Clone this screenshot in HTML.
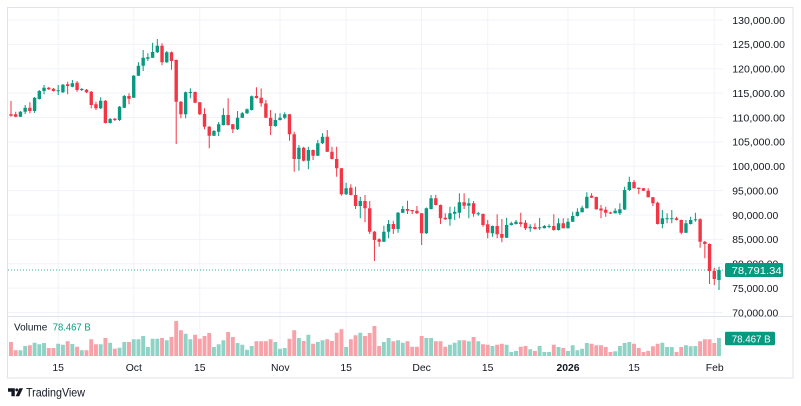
<!DOCTYPE html>
<html>
<head>
<meta charset="utf-8">
<style>
html,body{margin:0;padding:0;background:#fff;}
svg{display:block;}
text{font-family:"Liberation Sans",Arial,sans-serif;}
</style>
</head>
<body>
<svg width="801" height="406" viewBox="0 0 801 406" xmlns="http://www.w3.org/2000/svg">
<rect x="0" y="0" width="801" height="406" fill="#fff"/>
<!-- grid -->
<g stroke="#f0f3fa" stroke-width="1">
<path d="M8 20H723M8 44.38H723M8 68.76H723M8 93.14H723M8 117.52H723M8 141.9H723M8 166.28H723M8 190.66H723M8 215.04H723M8 239.42H723M8 263.8H723M8 288.18H723M8 312.56H723"/>
<path d="M58.2 8V356M133.72 8V356M199.8 8V356M280.04 8V356M346.12 8V356M421.64 8V356M487.72 8V356M567.96 8V356M634.04 8V356M714.28 8V356"/>
</g>
<!-- border & separators -->
<rect x="7.5" y="7.5" width="785.5" height="370.5" fill="none" stroke="#e0e3eb" stroke-width="1"/>
<path d="M8 316.5H793" stroke="#e0e3eb" stroke-width="1"/>

<!-- volume bars -->
<path fill="#f7a1a8" d="M9.05 342h3.9V356h-3.9zM13.77 350.3h3.9V356h-3.9zM27.93 345.3h3.9V356h-3.9zM46.81 348h3.9V356h-3.9zM51.53 348h3.9V356h-3.9zM65.69 341.3h3.9V356h-3.9zM75.13 346.7h3.9V356h-3.9zM84.57 350.3h3.9V356h-3.9zM89.29 339.3h3.9V356h-3.9zM94.01 344.3h3.9V356h-3.9zM103.45 338h3.9V356h-3.9zM112.89 348.7h3.9V356h-3.9zM127.05 342h3.9V356h-3.9zM160.09 338h3.9V356h-3.9zM169.53 337h3.9V356h-3.9zM174.25 321h3.9V356h-3.9zM178.97 330.3h3.9V356h-3.9zM193.13 334.7h3.9V356h-3.9zM197.85 338.7h3.9V356h-3.9zM202.57 336h3.9V356h-3.9zM207.29 333h3.9V356h-3.9zM226.17 332h3.9V356h-3.9zM230.89 337h3.9V356h-3.9zM254.49 341.3h3.9V356h-3.9zM259.21 341.3h3.9V356h-3.9zM263.93 341.3h3.9V356h-3.9zM268.65 339.3h3.9V356h-3.9zM287.53 338.7h3.9V356h-3.9zM292.25 330.3h3.9V356h-3.9zM301.69 341h3.9V356h-3.9zM311.13 343.7h3.9V356h-3.9zM325.29 339.3h3.9V356h-3.9zM330.01 341h3.9V356h-3.9zM334.73 332.7h3.9V356h-3.9zM339.45 329.3h3.9V356h-3.9zM348.89 339.3h3.9V356h-3.9zM353.61 335.3h3.9V356h-3.9zM363.05 336h3.9V356h-3.9zM367.77 333h3.9V356h-3.9zM372.49 326h3.9V356h-3.9zM377.21 346h3.9V356h-3.9zM391.37 341.3h3.9V356h-3.9zM405.53 341.3h3.9V356h-3.9zM410.25 346.7h3.9V356h-3.9zM414.97 346.7h3.9V356h-3.9zM419.69 336h3.9V356h-3.9zM433.85 341.3h3.9V356h-3.9zM438.57 341.3h3.9V356h-3.9zM443.29 346.7h3.9V356h-3.9zM462.17 340.3h3.9V356h-3.9zM471.61 337h3.9V356h-3.9zM481.05 344.3h3.9V356h-3.9zM485.77 344.7h3.9V356h-3.9zM495.21 344.7h3.9V356h-3.9zM499.93 343.7h3.9V356h-3.9zM518.81 346.7h3.9V356h-3.9zM523.53 346h3.9V356h-3.9zM532.97 351h3.9V356h-3.9zM551.85 344.7h3.9V356h-3.9zM561.29 348h3.9V356h-3.9zM589.61 343.7h3.9V356h-3.9zM594.33 345.3h3.9V356h-3.9zM599.05 345.3h3.9V356h-3.9zM603.77 347h3.9V356h-3.9zM608.49 352h3.9V356h-3.9zM632.09 343.7h3.9V356h-3.9zM636.81 348h3.9V356h-3.9zM641.53 352h3.9V356h-3.9zM646.25 351h3.9V356h-3.9zM650.97 346.3h3.9V356h-3.9zM655.69 343.7h3.9V356h-3.9zM674.57 352h3.9V356h-3.9zM679.29 347h3.9V356h-3.9zM698.17 341.3h3.9V356h-3.9zM702.89 339.3h3.9V356h-3.9zM707.61 339.3h3.9V356h-3.9zM712.33 343h3.9V356h-3.9z"/>
<path fill="#8fd3c6" d="M18.49 350.3h3.9V356h-3.9zM23.21 346h3.9V356h-3.9zM32.65 342.7h3.9V356h-3.9zM37.37 344.3h3.9V356h-3.9zM42.09 343h3.9V356h-3.9zM56.25 343.7h3.9V356h-3.9zM60.97 344.7h3.9V356h-3.9zM70.41 344h3.9V356h-3.9zM79.85 350.3h3.9V356h-3.9zM98.73 344.3h3.9V356h-3.9zM108.17 342.7h3.9V356h-3.9zM117.61 347.7h3.9V356h-3.9zM122.33 342h3.9V356h-3.9zM131.77 339.3h3.9V356h-3.9zM136.49 339.3h3.9V356h-3.9zM141.21 336h3.9V356h-3.9zM145.93 347h3.9V356h-3.9zM150.65 338.7h3.9V356h-3.9zM155.37 338.7h3.9V356h-3.9zM164.81 340.3h3.9V356h-3.9zM183.69 333.7h3.9V356h-3.9zM188.41 339.3h3.9V356h-3.9zM212.01 347h3.9V356h-3.9zM216.73 344.3h3.9V356h-3.9zM221.45 340.3h3.9V356h-3.9zM235.61 343h3.9V356h-3.9zM240.33 344.7h3.9V356h-3.9zM245.05 349.7h3.9V356h-3.9zM249.77 346h3.9V356h-3.9zM273.37 342h3.9V356h-3.9zM278.09 348.7h3.9V356h-3.9zM282.81 348h3.9V356h-3.9zM296.97 338h3.9V356h-3.9zM306.41 334.7h3.9V356h-3.9zM315.85 342h3.9V356h-3.9zM320.57 340.3h3.9V356h-3.9zM344.17 347h3.9V356h-3.9zM358.33 332.7h3.9V356h-3.9zM381.93 342h3.9V356h-3.9zM386.65 338h3.9V356h-3.9zM396.09 340.3h3.9V356h-3.9zM400.81 342.7h3.9V356h-3.9zM424.41 338h3.9V356h-3.9zM429.13 338h3.9V356h-3.9zM448.01 344.7h3.9V356h-3.9zM452.73 342.7h3.9V356h-3.9zM457.45 340.3h3.9V356h-3.9zM466.89 341.3h3.9V356h-3.9zM476.33 341.3h3.9V356h-3.9zM490.49 346h3.9V356h-3.9zM504.65 344.7h3.9V356h-3.9zM509.37 352h3.9V356h-3.9zM514.09 351h3.9V356h-3.9zM528.25 349.3h3.9V356h-3.9zM537.69 346h3.9V356h-3.9zM542.41 352h3.9V356h-3.9zM547.13 352h3.9V356h-3.9zM556.57 347h3.9V356h-3.9zM566.01 351h3.9V356h-3.9zM570.73 345.3h3.9V356h-3.9zM575.45 350.3h3.9V356h-3.9zM580.17 348.7h3.9V356h-3.9zM584.89 343h3.9V356h-3.9zM613.21 351.3h3.9V356h-3.9zM617.93 346h3.9V356h-3.9zM622.65 343h3.9V356h-3.9zM627.37 342h3.9V356h-3.9zM660.41 342.7h3.9V356h-3.9zM665.13 347h3.9V356h-3.9zM669.85 347h3.9V356h-3.9zM684.01 345.3h3.9V356h-3.9zM688.73 346.3h3.9V356h-3.9zM693.45 346h3.9V356h-3.9zM717.05 338h3.9V356h-3.9z"/>

<!-- last price dotted line -->
<path d="M8 270H724" stroke="#089981" stroke-width="1" stroke-dasharray="1 2" opacity="0.8"/>

<!-- wicks -->
<path stroke="#f23645" stroke-width="1" fill="none" d="M11 101V116.7M15.72 111.7V117.3M29.88 102.3V113.3M48.76 87V90M53.48 88V91.5M67.64 81.7V94.3M77.08 81V91.7M86.52 89V93M91.24 91V108.3M95.96 101.7V110M105.4 100V123.5M114.84 118V121M129 93.3V104.3M162.04 43.3V65.3M171.48 51.5V69.7M176.2 59.5V144M180.92 101V118.3M195.08 91.5V103M199.8 102V115M204.52 108.3V129.3M209.24 126V148.3M228.12 98.3V125.5M232.84 124V133M256.44 87.3V98.5M261.16 88.5V106.7M265.88 100V118M270.6 110V135M289.48 114V140.7M294.2 131.7V171.7M303.64 146.7V161.5M313.08 149.5V160M327.24 130V152M331.96 146.7V159.5M336.68 146.7V176.7M341.4 168V195.7M350.84 184.3V195.5M355.56 186.7V209M365 195V222.3M369.72 201V234M374.44 231V261M379.16 238.3V246.7M393.32 220.7V234M407.48 200.7V214M412.2 210V214M416.92 206V214M421.64 213V245M435.8 195V205.5M440.52 204.5V224M445.24 213.3V220M464.12 193.3V209M473.56 201V216.7M483 213.5V226.7M487.72 220V238.3M497.16 214.3V238.3M501.88 219V242.3M520.76 212.7V226.7M525.48 220V230M534.92 223.3V229.5M553.8 214.3V230.7M563.24 218.3V228.5M591.56 193.3V198M596.28 196.7V209.7M601 205V218.3M605.72 206.7V216.7M610.44 211.7V214M634.04 180V188.5M638.76 187.5V194M643.48 188V191M648.2 188.3V197.5M652.92 197V206M657.64 201.7V224.5M676.52 216.7V220.5M681.24 219.5V234.3M700.12 218.3V247.7M704.84 241V258.3M709.56 243.5V284M714.28 267.7V285"/>
<path stroke="#089981" stroke-width="1" fill="none" d="M20.44 111V117M25.16 105V114M34.6 97V113M39.32 90V99.5M44.04 85V94.3M58.2 85V95M62.92 84V93M72.36 80V87.3M81.8 88V91M100.68 97.3V109M110.12 118V123.5M119.56 106V121M124.28 95V108M133.72 75V98M138.44 62.3V76M143.16 50V71M147.88 53.3V61M152.6 42.7V58M157.32 39V53M166.76 51V63M185.64 91.5V118.3M190.36 88.3V98.3M213.96 130V136M218.68 122V136M223.4 108.3V125.5M237.56 111V130M242.28 112V118M247 108.5V114M251.72 95.5V110.5M275.32 113.3V126.7M280.04 113.3V120.5M284.76 112.3V119.3M298.92 145V170.7M308.36 146.7V169.3M317.8 140V156M322.52 133.3V144M346.12 182.7V195M360.28 196.7V218.3M383.88 225.7V242M388.6 220V238.3M398.04 212V232.7M402.76 206V213M426.36 207.5V234M431.08 195V209.5M449.96 206.7V225.7M454.68 206.7V220M459.4 193.3V218.3M468.84 198.3V218.3M478.28 211.7V215.7M492.44 225.5V236.7M506.6 217.7V238M511.32 221.7V225.5M516.04 220V224.5M530.2 224.3V231.7M539.64 218V230M544.36 225V228.5M549.08 224.3V228.3M558.52 218.3V230.5M567.96 218.3V228.5M572.68 211.7V222M577.4 208.3V216.5M582.12 205.7V212.5M586.84 192.3V208.5M615.16 208.3V213.5M619.88 203.3V215M624.6 186.7V210M629.32 176.7V191M662.36 210V228.3M667.08 213.3V223.3M671.8 210V223.3M685.96 220V233M690.68 216.7V224.5M695.4 212.7V221.7M719 266.7V290"/>

<!-- bodies -->
<path fill="#f23645" d="M9.3 114.3h3.4V115.7h-3.4zM14.02 114.3h3.4V116.7h-3.4zM28.18 107.7h3.4V111h-3.4zM47.06 87.7h3.4V89.3h-3.4zM51.78 88.7h3.4V91h-3.4zM65.94 84.3h3.4V86h-3.4zM75.38 82.7h3.4V90h-3.4zM84.82 89.7h3.4V92.3h-3.4zM89.54 91.7h3.4V105h-3.4zM94.26 104.3h3.4V108.3h-3.4zM103.7 100.7h3.4V123h-3.4zM113.14 118.7h3.4V120h-3.4zM127.3 96h3.4V98.7h-3.4zM160.34 45.7h3.4V62.3h-3.4zM169.78 52.3h3.4V61h-3.4zM174.5 60h3.4V101.7h-3.4zM179.22 101.7h3.4V114.3h-3.4zM193.38 92h3.4V102.7h-3.4zM198.1 102.3h3.4V114.3h-3.4zM202.82 114h3.4V126.7h-3.4zM207.54 126.7h3.4V135.7h-3.4zM226.42 115h3.4V125h-3.4zM231.14 124.3h3.4V129.3h-3.4zM254.74 96h3.4V98h-3.4zM259.46 97.7h3.4V103.3h-3.4zM264.18 103.5h3.4V117.7h-3.4zM268.9 117.7h3.4V126h-3.4zM287.78 114.3h3.4V134.3h-3.4zM292.5 134.3h3.4V159h-3.4zM301.94 147.7h3.4V160.7h-3.4zM311.38 150h3.4V155.7h-3.4zM325.54 136.7h3.4V151.7h-3.4zM330.26 151.7h3.4V159h-3.4zM334.98 159h3.4V168.3h-3.4zM339.7 168.3h3.4V194.3h-3.4zM349.14 187.7h3.4V195h-3.4zM353.86 195h3.4V206h-3.4zM363.3 201h3.4V208.3h-3.4zM368.02 208.3h3.4V231.7h-3.4zM372.74 231.7h3.4V240h-3.4zM377.46 239.3h3.4V241.7h-3.4zM391.62 224h3.4V229h-3.4zM405.78 209h3.4V210.7h-3.4zM410.5 210h3.4V211.2h-3.4zM415.22 210.7h3.4V213.3h-3.4zM419.94 213.3h3.4V233.3h-3.4zM434.1 198.3h3.4V205h-3.4zM438.82 205h3.4V218.3h-3.4zM443.54 217.7h3.4V219.3h-3.4zM462.42 202.3h3.4V205.7h-3.4zM471.86 203.3h3.4V213.7h-3.4zM481.3 214h3.4V225h-3.4zM486.02 224.3h3.4V232.7h-3.4zM495.46 226h3.4V234.3h-3.4zM500.18 234h3.4V237.7h-3.4zM519.06 222.3h3.4V224h-3.4zM523.78 222.7h3.4V228.3h-3.4zM533.22 227h3.4V229h-3.4zM552.1 226h3.4V230h-3.4zM561.54 223.3h3.4V228.3h-3.4zM589.86 195.7h3.4V197.7h-3.4zM594.58 197h3.4V209.3h-3.4zM599.3 208.5h3.4V210.5h-3.4zM604.02 209.7h3.4V212.7h-3.4zM608.74 212.5h3.4V213.5h-3.4zM632.34 182h3.4V188.3h-3.4zM637.06 187.7h3.4V189h-3.4zM641.78 188.3h3.4V190.7h-3.4zM646.5 190.7h3.4V197.3h-3.4zM651.22 197.3h3.4V203.3h-3.4zM655.94 202.7h3.4V224h-3.4zM674.82 218.3h3.4V220h-3.4zM679.54 220h3.4V232.7h-3.4zM698.42 219.3h3.4V241.7h-3.4zM703.14 241.7h3.4V244h-3.4zM707.86 244h3.4V271h-3.4zM712.58 271h3.4V279h-3.4z"/>
<path fill="#089981" d="M18.74 111.7h3.4V116.7h-3.4zM23.46 107.7h3.4V111.7h-3.4zM32.9 97.7h3.4V111h-3.4zM37.62 91h3.4V99h-3.4zM42.34 87.7h3.4V91h-3.4zM56.5 90.3h3.4V91.3h-3.4zM61.22 84.7h3.4V92.3h-3.4zM70.66 83.3h3.4V86.7h-3.4zM80.1 89h3.4V90h-3.4zM98.98 100.7h3.4V108.3h-3.4zM108.42 119h3.4V123h-3.4zM117.86 106.7h3.4V120h-3.4zM122.58 96h3.4V107.7h-3.4zM132.02 75.7h3.4V97.7h-3.4zM136.74 65.7h3.4V75.7h-3.4zM141.46 57.7h3.4V65.7h-3.4zM146.18 57.3h3.4V58.7h-3.4zM150.9 52h3.4V57.7h-3.4zM155.62 45.7h3.4V52.3h-3.4zM165.06 52.3h3.4V62.3h-3.4zM183.94 92.3h3.4V114.3h-3.4zM188.66 92h3.4V93h-3.4zM212.26 131h3.4V135.7h-3.4zM216.98 124.3h3.4V131.7h-3.4zM221.7 115h3.4V125h-3.4zM235.86 117.7h3.4V129.3h-3.4zM240.58 113.3h3.4V117.7h-3.4zM245.3 109.3h3.4V113.3h-3.4zM250.02 96.3h3.4V110h-3.4zM273.62 120h3.4V126h-3.4zM278.34 117.7h3.4V120h-3.4zM283.06 114.3h3.4V117.7h-3.4zM297.22 147.7h3.4V159h-3.4zM306.66 150h3.4V160.7h-3.4zM316.1 143.3h3.4V155.7h-3.4zM320.82 136.7h3.4V143.3h-3.4zM344.42 188.3h3.4V194.3h-3.4zM358.58 201h3.4V206h-3.4zM382.18 231.7h3.4V241.7h-3.4zM386.9 224h3.4V231.7h-3.4zM396.34 212.7h3.4V229h-3.4zM401.06 209h3.4V212.7h-3.4zM424.66 208.3h3.4V233.3h-3.4zM429.38 198.3h3.4V209h-3.4zM448.26 213.3h3.4V219.3h-3.4zM452.98 211.7h3.4V213.7h-3.4zM457.7 202.3h3.4V212.7h-3.4zM467.14 203.3h3.4V205.7h-3.4zM476.58 213.3h3.4V214.3h-3.4zM490.74 226h3.4V233.3h-3.4zM504.9 225h3.4V237.7h-3.4zM509.62 223.3h3.4V225h-3.4zM514.34 221.7h3.4V224h-3.4zM528.5 226.7h3.4V228.3h-3.4zM537.94 227.3h3.4V228.3h-3.4zM542.66 226h3.4V228.3h-3.4zM547.38 226h3.4V227h-3.4zM556.82 223.3h3.4V230h-3.4zM566.26 221.7h3.4V228.3h-3.4zM570.98 216h3.4V221.7h-3.4zM575.7 211.7h3.4V216h-3.4zM580.42 207.7h3.4V212.3h-3.4zM585.14 196.7h3.4V208.3h-3.4zM613.46 210.7h3.4V213.3h-3.4zM618.18 209.3h3.4V213.3h-3.4zM622.9 190h3.4V209.5h-3.4zM627.62 182h3.4V190h-3.4zM660.66 218.3h3.4V224h-3.4zM665.38 218.3h3.4V219.3h-3.4zM670.1 218.3h3.4V219.3h-3.4zM684.26 223.3h3.4V232.7h-3.4zM688.98 220h3.4V224h-3.4zM693.7 219.3h3.4V220.3h-3.4zM717.3 270h3.4V280h-3.4z"/>

<!-- price axis labels -->
<g font-size="10.5" fill="#131722">
<text x="732.3" y="23.8" textLength="52.7" lengthAdjust="spacingAndGlyphs">130,000.00</text>
<text x="732.3" y="48.2" textLength="52.7" lengthAdjust="spacingAndGlyphs">125,000.00</text>
<text x="732.3" y="72.6" textLength="52.7" lengthAdjust="spacingAndGlyphs">120,000.00</text>
<text x="732.3" y="96.9" textLength="52.7" lengthAdjust="spacingAndGlyphs">115,000.00</text>
<text x="732.3" y="121.3" textLength="52.7" lengthAdjust="spacingAndGlyphs">110,000.00</text>
<text x="732.3" y="145.7" textLength="52.7" lengthAdjust="spacingAndGlyphs">105,000.00</text>
<text x="732.3" y="170.1" textLength="52.7" lengthAdjust="spacingAndGlyphs">100,000.00</text>
<text x="732.3" y="194.5" textLength="46" lengthAdjust="spacingAndGlyphs">95,000.00</text>
<text x="732.3" y="218.8" textLength="46" lengthAdjust="spacingAndGlyphs">90,000.00</text>
<text x="732.3" y="243.2" textLength="46" lengthAdjust="spacingAndGlyphs">85,000.00</text>
<text x="732.3" y="267.6" textLength="46" lengthAdjust="spacingAndGlyphs">80,000.00</text>
<text x="732.3" y="292" textLength="46" lengthAdjust="spacingAndGlyphs">75,000.00</text>
<text x="732.3" y="316.3" textLength="46" lengthAdjust="spacingAndGlyphs">70,000.00</text>
</g>

<!-- last price tag -->
<rect x="725" y="263" width="58" height="14" rx="1.5" fill="#089981"/>
<text x="731.7" y="273.8" font-size="10.5" fill="#fff" textLength="50" lengthAdjust="spacingAndGlyphs">78,791.34</text>

<!-- volume tag -->
<rect x="725" y="331.7" width="50" height="13.5" rx="1.5" fill="#089981"/>
<text x="731.7" y="342.3" font-size="10.5" fill="#fff" textLength="39" lengthAdjust="spacingAndGlyphs">78.467 B</text>

<!-- volume legend -->
<text x="14" y="330.7" font-size="10.2" fill="#131722" textLength="33.3" lengthAdjust="spacingAndGlyphs">Volume</text>
<text x="52.7" y="330.7" font-size="10.2" fill="#089981" textLength="38" lengthAdjust="spacingAndGlyphs">78.467 B</text>

<!-- time axis -->
<g font-size="10.4" fill="#131722" text-anchor="middle">
<text x="58.2" y="371.2">15</text>
<text x="133.8" y="371.2">Oct</text>
<text x="199.8" y="371.2">15</text>
<text x="280.3" y="371.2">Nov</text>
<text x="346.1" y="371.2">15</text>
<text x="421.6" y="371.2">Dec</text>
<text x="487.7" y="371.2">15</text>
<text x="568" y="371.2" font-weight="bold">2026</text>
<text x="634" y="371.2">15</text>
<text x="714.7" y="371.2">Feb</text>
</g>

<!-- TradingView logo -->
<g fill="#131722">
<path d="M8 388.3h6.8v8h-3.4v-4.6h-3.4z"/>
<circle cx="16.8" cy="389.9" r="1.5"/>
<path d="M19.4 388.3h3.6l-3.8 8h-3.6z"/>
<text x="26" y="396.4" font-size="12" textLength="59" lengthAdjust="spacingAndGlyphs">TradingView</text>
</g>
</svg>
</body>
</html>
